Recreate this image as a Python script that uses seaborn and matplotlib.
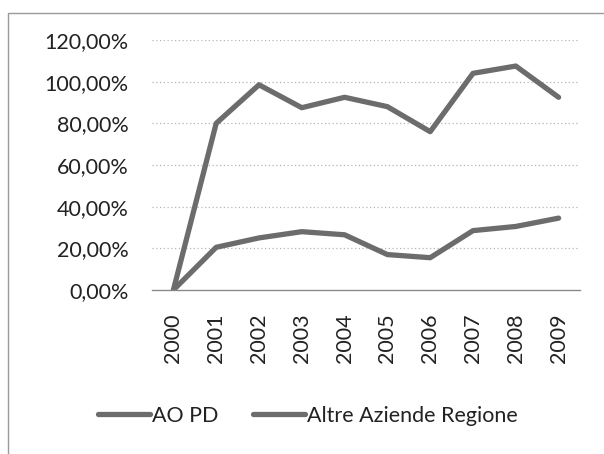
import matplotlib
matplotlib.use("Agg")
import matplotlib.pyplot as plt
import matplotlib.ticker as mticker
from matplotlib.patches import Rectangle
import pandas as pd
import seaborn as sns

# Annual percentage values for the two groups
years = ["2000", "2001", "2002", "2003", "2004", "2005", "2006", "2007", "2008", "2009"]
ao_pd = [0.0, 80.0, 98.5, 87.5, 92.5, 88.0, 76.0, 104.0, 107.5, 92.5]
altre_aziende = [0.0, 20.5, 25.0, 28.0, 26.5, 17.0, 15.5, 28.5, 30.5, 34.5]
series_names = ["AO PD", "Altre Aziende Regione"]
y_ticks = [0, 20, 40, 60, 80, 100, 120]

df = pd.DataFrame({
    "anno": years * 2,
    "pos": list(range(len(years))) * 2,
    "valore": ao_pd + altre_aziende,
    "serie": [series_names[0]] * len(years) + [series_names[1]] * len(years),
})

sns.set_theme(style="white")
plt.rcParams["font.family"] = ["Lato", "DejaVu Sans"]

W, H = 604, 454
fig = plt.figure(figsize=(W / 100, H / 100), dpi=100)
ax = fig.add_axes([152 / W, 1 - 290 / H, (580 - 152) / W, (290 - 40) / H])

line_grey = "#6c6c6c"
sns.lineplot(data=df, x="pos", y="valore", hue="serie", palette=[line_grey, line_grey],
             linewidth=3.8, ax=ax, legend=False, sort=False)

ax.set_xlim(-0.5, len(years) - 0.5)
ax.set_ylim(0, 120)
ax.set_yticks(y_ticks)
ax.yaxis.set_major_formatter(mticker.FuncFormatter(lambda v, _: f"{v:.2f}%".replace(".", ",")))
ax.set_xticks(range(len(years)))
ax.set_xticklabels(years, rotation=90)
ax.set_xlabel("")
ax.set_ylabel("")

# dotted horizontal gridlines, solid baseline
for v in y_ticks[1:]:
    ax.axhline(v, color="#b5b5b5", linewidth=0.9, linestyle=(0, (1, 2)), zorder=0)
for s in ["top", "right", "left"]:
    ax.spines[s].set_visible(False)
ax.spines["bottom"].set_color("#8a8a8a")
ax.spines["bottom"].set_linewidth(1.0)

ax.tick_params(axis="y", length=0, pad=17, labelsize=15.5, labelcolor="#222222")
ax.tick_params(axis="x", length=0, pad=17, labelsize=15.5, labelcolor="#222222")

handles = [plt.Line2D([], [], color=line_grey, linewidth=3.8) for _ in series_names]
fig.legend(handles, series_names, loc="center", bbox_to_anchor=(308 / W, 1 - 416 / H),
           ncol=2, frameon=False, fontsize=15.5, handlelength=2.4, handletextpad=0.1,
           columnspacing=1.6, labelcolor="#222222")

# outer frame of the chart area (top and left edges show on the canvas)
fig.patches.append(Rectangle((8 / W, -0.05), 1.2, 1 - 13 / H + 0.05, transform=fig.transFigure,
                             fill=False, edgecolor="#9a9a9a", linewidth=1.0))

fig.savefig("out.png", dpi=100, facecolor="white")
